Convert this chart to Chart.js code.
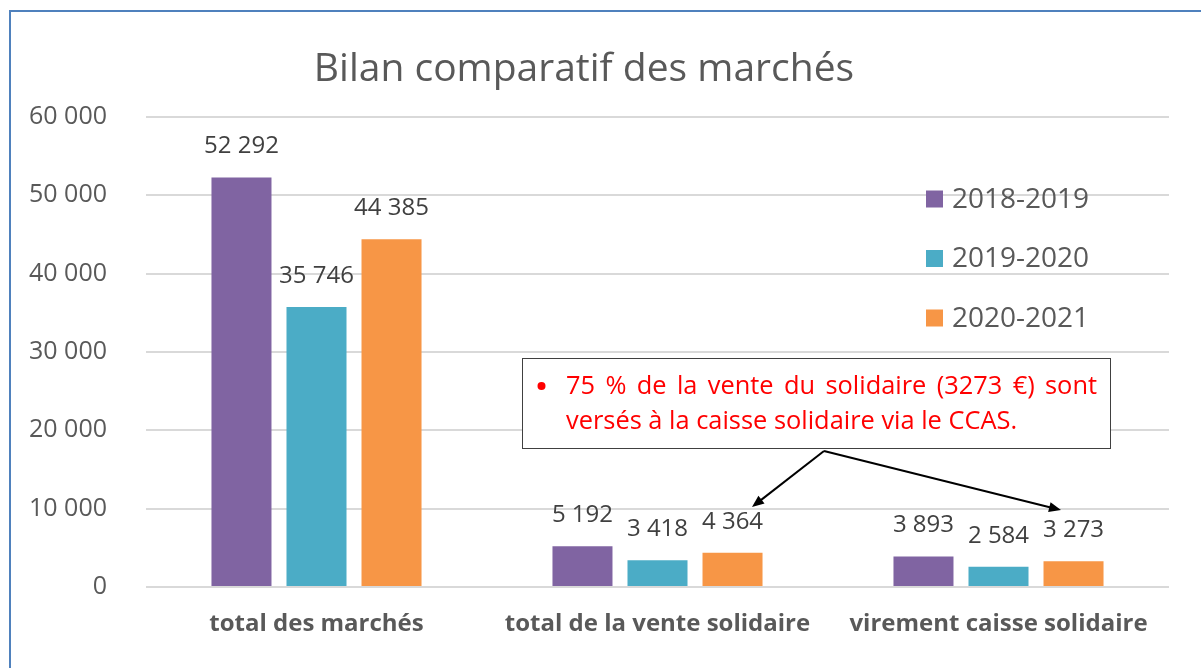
<!DOCTYPE html>
<html>
<head>
<meta charset="utf-8">
<script src="https://cdn.jsdelivr.net/npm/chart.js@4.4.1/dist/chart.umd.min.js"></script>
<style>
  html, body { margin: 0; padding: 0; background: #fff; }
  #wrap { position: relative; width: 1201px; height: 668px; overflow: hidden; }
  #cadre { position: absolute; left: 9px; top: 10px; width: 1300px; height: 800px;
           border: 2px solid #4F81BD; pointer-events: none; }
</style>
</head>
<body>
<div id="wrap">
  <canvas id="grafico" width="1201" height="668"></canvas>
  <div id="cadre"></div>
</div>
<script>
// --- Données ---
const categories = ["total des marchés", "total de la vente solidaire", "virement caisse solidaire"];
const saisons = ["2018-2019", "2019-2020", "2020-2021"];
const valeurs2018 = [52292, 5192, 3893];
const valeurs2019 = [35746, 3418, 2584];
const valeurs2020 = [44385, 4364, 3273];
const ticksY = [0, 10000, 20000, 30000, 40000, 50000, 60000];
const titre = "Bilan comparatif des marchés";
const noteLigne1 = "75 % de la vente du solidaire (3273 €) sont";
const noteLigne2 = "versés à la caisse solidaire via le CCAS.";

const couleurs = ["#8064A2", "#4BACC6", "#F79646"];
const police = "'Open Sans', 'Noto Sans', sans-serif";

// --- Format nombres "52 292" ---
function fmt(n) {
  return String(n).replace(/\B(?=(\d{3})+(?!\d))/g, " ");
}

// --- Titre (décalé à gauche comme dans Excel) ---
const titreGraph = {
  id: "titreGraph",
  afterDraw(chart) {
    const ctx = chart.ctx;
    ctx.save();
    ctx.font = "39px " + police;
    ctx.fillStyle = "#595959";
    ctx.textAlign = "center";
    ctx.textBaseline = "middle";
    ctx.fillText(titre, 584, 70);
    ctx.restore();
  }
};

// --- Étiquettes au-dessus des barres ---
const etiquettes = {
  id: "etiquettes",
  afterDatasetsDraw(chart) {
    const ctx = chart.ctx;
    ctx.save();
    ctx.font = "24px " + police;
    ctx.fillStyle = "#404040";
    ctx.textAlign = "center";
    ctx.textBaseline = "middle";
    chart.data.datasets.forEach((ds, i) => {
      chart.getDatasetMeta(i).data.forEach((bar, j) => {
        ctx.fillText(fmt(ds.data[j]), bar.x, bar.y - 31);
      });
    });
    ctx.restore();
  }
};

// --- Légende à droite dans le graphique ---
const legende = {
  id: "legende",
  afterDraw(chart) {
    const ctx = chart.ctx;
    ctx.save();
    ctx.font = "28px " + police;
    ctx.textBaseline = "middle";
    chart.data.datasets.forEach((ds, i) => {
      const y = 199 + i * 59.5;
      ctx.fillStyle = ds.backgroundColor;
      ctx.fillRect(926, y - 8.5, 17, 17);
      ctx.fillStyle = "#595959";
      ctx.fillText(ds.label, 952, y + 1);
    });
    ctx.restore();
  }
};

// --- Flèche ---
function fleche(ctx, x1, y1, x2, y2) {
  const ang = Math.atan2(y2 - y1, x2 - x1);
  const L = 12, W = 5;
  ctx.beginPath();
  ctx.moveTo(x1, y1);
  ctx.lineTo(x2 - L * 0.8 * Math.cos(ang), y2 - L * 0.8 * Math.sin(ang));
  ctx.stroke();
  ctx.beginPath();
  ctx.moveTo(x2, y2);
  ctx.lineTo(x2 - L * Math.cos(ang) + W * Math.sin(ang), y2 - L * Math.sin(ang) - W * Math.cos(ang));
  ctx.lineTo(x2 - L * Math.cos(ang) - W * Math.sin(ang), y2 - L * Math.sin(ang) + W * Math.cos(ang));
  ctx.closePath();
  ctx.fill();
}

// --- Encadré rouge + flèches ---
const encadre = {
  id: "encadre",
  afterDraw(chart) {
    const ctx = chart.ctx;
    ctx.save();
    // cadre
    ctx.fillStyle = "#fff";
    ctx.fillRect(522, 358, 588, 90);
    ctx.strokeStyle = "#404040";
    ctx.lineWidth = 1;
    ctx.strokeRect(522.5, 358.5, 588, 90);

    // taille de police ajustée à la largeur de la 2e ligne
    ctx.font = "22px " + police;
    const taille = 22 * 452 / ctx.measureText(noteLigne2).width;
    ctx.font = taille.toFixed(1) + "px " + police;
    ctx.fillStyle = "#FF0000";
    ctx.textBaseline = "middle";

    // puce
    ctx.beginPath();
    ctx.arc(541.5, 386, 4, 0, Math.PI * 2);
    ctx.fill();

    // ligne 1 justifiée
    const mots = noteLigne1.split(" ");
    const xg = 566, xd = 1097;
    const largeurMots = mots.reduce((s, m) => s + ctx.measureText(m).width, 0);
    const esp = (xd - xg - largeurMots) / (mots.length - 1);
    let x = xg;
    mots.forEach(m => {
      ctx.fillText(m, x, 387);
      x += ctx.measureText(m).width + esp;
    });
    // ligne 2
    ctx.fillText(noteLigne2, xg, 422);

    // flèches
    ctx.strokeStyle = "#000";
    ctx.fillStyle = "#000";
    ctx.lineWidth = 2;
    fleche(ctx, 824, 451, 752, 507);
    fleche(ctx, 824, 451, 1061, 510);
    ctx.restore();
  }
};

const ctx = document.getElementById("grafico").getContext("2d");
new Chart(ctx, {
  type: "bar",
  data: {
    labels: categories,
    datasets: [
      { label: saisons[0], data: valeurs2018, backgroundColor: couleurs[0] },
      { label: saisons[1], data: valeurs2019, backgroundColor: couleurs[1] },
      { label: saisons[2], data: valeurs2020, backgroundColor: couleurs[2] }
    ]
  },
  options: {
    responsive: false,
    animation: false,
    events: [],
    categoryPercentage: 0.66,
    barPercentage: 0.8,
    layout: { padding: { left: 26, right: 32, top: 117, bottom: 21 } },
    plugins: {
      legend: { display: false },
      tooltip: { enabled: false },
      title: { display: false }
    },
    scales: {
      x: {
        grid: { display: false },
        border: { display: false },
        ticks: {
          color: "#595959",
          font: { family: police, size: 24, weight: "bold" },
          padding: 15
        },
        afterFit(s) { s.height = 60; }
      },
      y: {
        min: 0,
        max: 60000,
        afterBuildTicks(s) { s.ticks = ticksY.map(v => ({ value: v })); },
        grid: { color: "#D9D9D9", lineWidth: 2, drawTicks: false },
        border: { display: false },
        ticks: {
          color: "#595959",
          font: { family: police, size: 25 },
          padding: 39,
          callback: v => fmt(v)
        },
        afterFit(s) { s.width = 120; }
      }
    }
  },
  plugins: [titreGraph, etiquettes, legende, encadre]
});
</script>
</body>
</html>
